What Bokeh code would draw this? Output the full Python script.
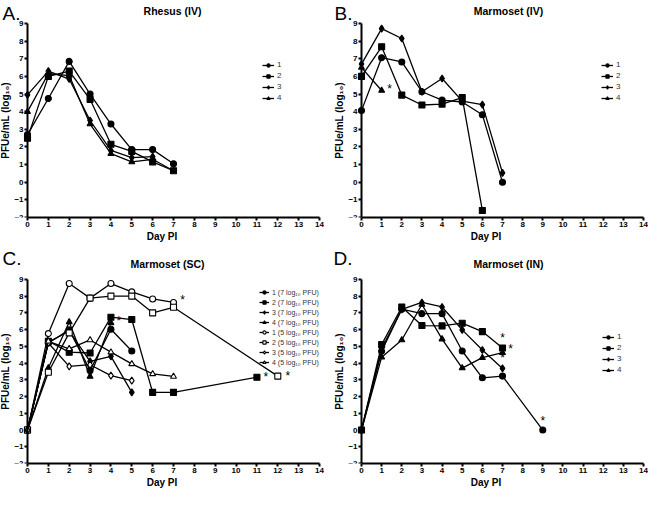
from bokeh.plotting import figure
from bokeh.layouts import gridplot
from bokeh.models import Legend, LegendItem, Label, FixedTicker, Range1d
from bokeh.embed import file_html
from bokeh.resources import INLINE
from bokeh.core.properties import value

FONT = "Liberation Sans"

# ---------------- data ----------------
x_ticks = list(range(0, 15))
y_ticks = list(range(-2, 10))

# Panel A: Rhesus (IV)
A_days_1 = [0, 1, 2, 3, 4, 5, 6, 7]
A_vals_1 = [2.7, 4.75, 6.85, 5.0, 3.3, 1.85, 1.85, 1.05]
A_days_2 = [0, 1, 2, 3, 4, 5, 6, 7]
A_vals_2 = [2.5, 6.0, 6.3, 4.7, 2.15, 1.75, 1.15, 0.65]
A_days_3 = [0, 1, 2, 3, 4, 5, 6]
A_vals_3 = [4.95, 6.3, 5.85, 3.5, 1.8, 1.4, 1.45]
A_days_4 = [0, 1, 2, 3, 4, 5, 6, 7]
A_vals_4 = [4.0, 6.15, 6.05, 3.3, 1.62, 1.15, 1.3, 0.65]

# Panel B: Marmoset (IV)
B_days_1 = [0, 1, 2, 3, 4, 5, 6, 7]
B_vals_1 = [4.06, 7.06, 6.82, 5.13, 4.66, 4.55, 3.83, 0.0]
B_days_2 = [0, 1, 2, 3, 4, 5, 6]
B_vals_2 = [6.0, 7.68, 4.94, 4.38, 4.43, 4.8, -1.6]
B_days_3 = [0, 1, 2, 3, 4, 5, 6, 7]
B_vals_3 = [6.7, 8.71, 8.15, 5.13, 5.88, 4.6, 4.4, 0.53]
B_days_4 = [0, 1]
B_vals_4 = [6.5, 5.2]

# Panel C: Marmoset (SC)
C_days_f1 = [0, 1, 2, 3, 4, 5]
C_vals_f1 = [0, 5.2, 5.98, 3.56, 6.02, 4.72]
C_days_f2 = [0, 1, 2, 3, 4, 5, 6, 7, 11]
C_vals_f2 = [0, 5.3, 4.65, 4.6, 6.74, 6.6, 2.25, 2.25, 3.15]
C_days_f3 = [0, 1, 2, 3, 4, 5]
C_vals_f3 = [0, 5.25, 5.9, 4.1, 4.4, 2.25]
C_days_f4 = [0, 1, 2, 3, 4]
C_vals_f4 = [0, 3.7, 6.45, 3.2, 6.4]
C_days_o1 = [0, 1, 2, 3, 4, 5, 6, 7]
C_vals_o1 = [0, 5.76, 8.75, 7.88, 8.75, 8.25, 7.83, 7.62]
C_days_o2 = [0, 1, 2, 3, 4, 5, 6, 7, 12]
C_vals_o2 = [0, 3.45, 5.8, 7.88, 8.0, 8.0, 7.0, 7.33, 3.22]
C_days_o3 = [0, 1, 2, 3, 4, 5]
C_vals_o3 = [0, 5.2, 3.8, 3.9, 3.25, 2.95]
C_days_o4 = [0, 1, 2, 3, 4, 5, 6, 7]
C_vals_o4 = [0, 5.3, 4.85, 5.38, 4.65, 3.95, 3.35, 3.2]

# Panel D: Marmoset (IN)
D_days_1 = [0, 1, 2, 3, 4, 5, 6, 7, 9]
D_vals_1 = [0, 4.7, 7.22, 6.95, 6.95, 4.72, 3.12, 3.22, 0.0]
D_days_2 = [0, 1, 2, 3, 4, 5, 6, 7]
D_vals_2 = [0, 5.1, 7.35, 6.24, 6.22, 6.38, 5.88, 4.9]
D_days_3 = [0, 1, 2, 3, 4, 5, 6, 7]
D_vals_3 = [0, 4.87, 7.2, 7.62, 7.35, 5.98, 4.78, 3.68]
D_days_4 = [0, 1, 2, 3, 4, 5, 6, 7]
D_vals_4 = [0, 4.35, 5.38, 7.5, 5.43, 3.7, 4.32, 4.62]

X_MIN, X_MAX = 0, 14
Y_MIN, Y_MAX = -2, 9


def make_panel(letter, title, series, width, height, ax_px, x14_px, top_px,
               bot_b, leg_loc, leg_font, leg_glyph, ast_dx, ast_dy, title_x,
               title_top, letter_x, letter_top):
    right_b = 1
    fw = width - right_b
    fh = height - bot_b
    px_day = (x14_px - ax_px) / (X_MAX - X_MIN)
    px_unit = (fh - top_px) / (Y_MAX - Y_MIN)
    xr = Range1d(X_MIN - ax_px / px_day, X_MAX + (fw - x14_px) / px_day)
    yr = Range1d(Y_MIN, Y_MAX + top_px / px_unit)
    p = figure(width=width, height=height, output_backend="svg",
               toolbar_location=None, x_range=xr, y_range=yr,
               min_border_left=0, min_border_right=right_b,
               min_border_top=0, min_border_bottom=bot_b)
    p.outline_line_color = None
    p.xgrid.visible = False
    p.ygrid.visible = False
    p.background_fill_color = "white"
    p.border_fill_color = "white"
    for ax, ticks, bnds in ((p.xaxis[0], x_ticks, (X_MIN, X_MAX)),
                            (p.yaxis[0], y_ticks, (Y_MIN, Y_MAX))):
        ax.ticker = FixedTicker(ticks=ticks)
        ax.bounds = bnds
        ax.axis_line_width = 2
        ax.axis_line_color = "black"
        ax.major_tick_line_width = 2
        ax.major_tick_in = 0
        ax.major_tick_out = 3
        ax.minor_tick_line_color = None
        ax.major_label_text_font = FONT
        ax.major_label_text_font_style = "bold"
        ax.major_label_text_font_size = "8px"
        ax.major_label_text_color = "black"
        ax.major_label_standoff = 1
        ax.axis_label_text_font = FONT
        ax.axis_label_text_font_style = "bold"
        ax.axis_label_text_font_size = "10px"
        ax.axis_label_text_color = "black"
        ax.axis_label_standoff = 1
    p.yaxis[0].fixed_location = 0
    p.yaxis[0].axis_label_standoff = 0
    p.xaxis.axis_label = "Day PI"
    p.yaxis.axis_label = "PFUe/mL (log\u2081\u2080)"

    items = []
    ast_x, ast_y, ast_dxs, ast_dys = [], [], [], []
    for (lab, xs, ys, marker, filled, ast, k) in series:
        lr = p.line(xs, ys, line_color="black", line_width=1.3)
        size = 7 if marker == "diamond" else 6
        sr = p.scatter(xs, ys, marker=marker, size=size,
                       fill_color="black" if filled else "white",
                       line_color="black", line_width=1.1)
        items.append(LegendItem(label=lab, renderers=[lr, sr]))
        if ast:
            ast_x.append(xs[-1])
            ast_y.append(ys[-1])
            ast_dxs.append(ast_dx[k])
            ast_dys.append(ast_dy[k])
    if ast_x:
        p.text(x=ast_x, y=ast_y, text=["*"] * len(ast_x),
               x_offset=ast_dxs, y_offset=ast_dys,
               text_font=value(FONT), text_font_size="12px",
               text_align="center", text_baseline="middle", text_color="black")

    leg = Legend(items=items, location=leg_loc, background_fill_alpha=0,
                 border_line_color=None, label_text_font=FONT,
                 label_text_font_size=leg_font, label_text_color="#333333",
                 glyph_width=leg_glyph, glyph_height=8, label_height=8, spacing=2,
                 padding=0, margin=0, label_standoff=3)
    p.add_layout(leg)

    p.add_layout(Label(x=title_x, y=fh - title_top, x_units="screen", y_units="screen",
                       text=title, text_font=FONT, text_font_style="bold",
                       text_font_size="10.5px", text_align="center",
                       text_baseline="middle", text_color="black"))
    p.add_layout(Label(x=letter_x, y=fh - letter_top, x_units="screen", y_units="screen",
                       text=letter, text_font=FONT, text_font_size="19px",
                       text_align="left", text_baseline="top", text_color="black"))
    return p


A_series = [
    ("1", A_days_1, A_vals_1, "circle", True, False, 0),
    ("2", A_days_2, A_vals_2, "square", True, False, 1),
    ("3", A_days_3, A_vals_3, "diamond", True, False, 2),
    ("4", A_days_4, A_vals_4, "triangle", True, False, 3),
]
B_series = [
    ("1", B_days_1, B_vals_1, "circle", True, False, 0),
    ("2", B_days_2, B_vals_2, "square", True, False, 1),
    ("3", B_days_3, B_vals_3, "diamond", True, False, 2),
    ("4", B_days_4, B_vals_4, "triangle", True, True, 3),
]
C_series = [
    ("1 (7 log\u2081\u2080 PFU)", C_days_f1, C_vals_f1, "circle", True, False, 0),
    ("2 (7 log\u2081\u2080 PFU)", C_days_f2, C_vals_f2, "square", True, True, 1),
    ("3 (7 log\u2081\u2080 PFU)", C_days_f3, C_vals_f3, "diamond", True, False, 2),
    ("4 (7 log\u2081\u2080 PFU)", C_days_f4, C_vals_f4, "triangle", True, True, 3),
    ("1 (5 log\u2081\u2080 PFU)", C_days_o1, C_vals_o1, "circle", False, True, 4),
    ("2 (5 log\u2081\u2080 PFU)", C_days_o2, C_vals_o2, "square", False, True, 5),
    ("3 (5 log\u2081\u2080 PFU)", C_days_o3, C_vals_o3, "diamond", False, False, 6),
    ("4 (5 log\u2081\u2080 PFU)", C_days_o4, C_vals_o4, "triangle", False, False, 7),
]
D_series = [
    ("1", D_days_1, D_vals_1, "circle", True, True, 0),
    ("2", D_days_2, D_vals_2, "square", True, True, 1),
    ("3", D_days_3, D_vals_3, "diamond", True, True, 2),
    ("4", D_days_4, D_vals_4, "triangle", True, True, 3),
]

# layout: (width, height, axis x px, day-14 x px, y=9 px from top, bottom border)
pA = make_panel("A.", "Rhesus (IV)", A_series, 324, 245, 27, 319, 23, 28,
                (262, 115), "8px", 12, [0] * 4, [0] * 4, 172, 10, 2, 2)
pB = make_panel("B.", "Marmoset (IV)", B_series, 324, 245, 37, 319, 23, 28,
                (277, 115), "8px", 12, [0, 0, 0, 8], [0, 0, 0, -2], 184, 10, 10, 2)
pC = make_panel("C.", "Marmoset (SC)", C_series, 324, 245, 27, 319, 34, 26,
                (259, 97), "7px", 10, [0, 9, 0, 8, 9, 10, 0, 0], [0, 0, 0, -2, -2, 0, 0, 0],
                167, 19, 2, 3)
pD = make_panel("D.", "Marmoset (IN)", D_series, 324, 245, 37, 319, 34, 26,
                (278, 89), "8px", 12, [0, 0, 0, 8], [-9, -10, -10, -4],
                184, 19, 9, 3)

grid = gridplot([[pA, pB], [pC, pD]], toolbar_location=None)

open("out.html", "w").write(file_html(grid, INLINE))
